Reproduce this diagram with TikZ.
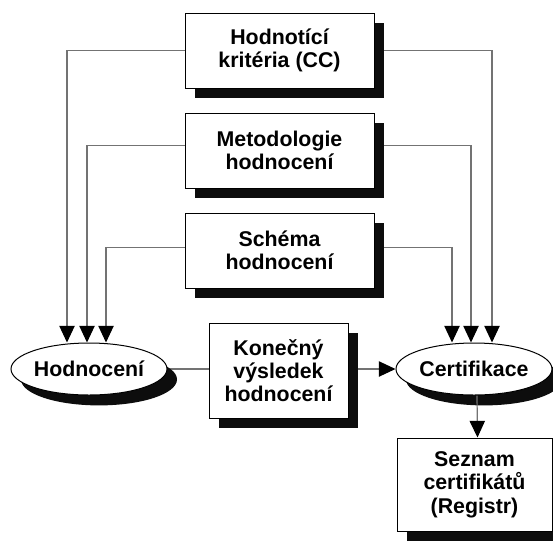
\documentclass[tikz,border=0pt]{standalone}
\usepackage{fontspec}
\setmainfont{Liberation Sans}
\usetikzlibrary{shapes.geometric,shadows,arrows.meta,calc}
\pgfdeclarelayer{bg}
\pgfsetlayers{bg,main}

\begin{document}
\begin{tikzpicture}[x=0.75pt,y=-0.75pt,
  txt/.style={font=\bfseries\fontsize{16}{17.5}\selectfont},
  dropshadow/.style={general shadow={fill=black!95, shadow xshift=7.5pt, shadow yshift=-7.8pt}},
  stepbox/.style={draw=black, line width=0.75pt, fill=white, rectangle, align=center,
    inner sep=0pt, txt, dropshadow, minimum width=141.75pt, minimum height=56.25pt},
  oval/.style={draw=black, ellipse, fill=white, line width=0.75pt, inner sep=0pt, txt,
    dropshadow, minimum width=117pt, minimum height=39pt},
  conn/.style={draw=black!55, line width=0.9pt},
  arrowed/.style={-{Triangle[length=12.5pt,width=11.5pt,color=black]}}
]
\useasboundingbox (0,0) rectangle (553,540);

% input documents
\node[stepbox] (crit)   at (279.5,50.5)  {Hodnotící\\kritéria (CC)};
\node[stepbox] (meth)   at (279.5,150.5) {Metodologie\\hodnocení};
\node[stepbox] (scheme) at (279.5,250.5) {Schéma\\hodnocení};

% process steps
\node[oval] (eval) at (89,369)  {Hodnocení};
\node[oval] (cert) at (474,369) {Certifikace};
\node[stepbox, minimum width=104.25pt, minimum height=71.25pt] (result)
  at (278.5,370.5) {Konečný\\výsledek\\hodnocení};
\node[stepbox, minimum width=116.25pt, minimum height=69.75pt] (reg)
  at (474.5,484.5) {Seznam\\certifikátů\\(Registr)};

\begin{pgfonlayer}{bg}
  \fill[white] (0,0) rectangle (553,540);
  % inputs to the evaluation
  \draw[conn,arrowed] (crit.west) -| ($(eval.north)+(-22,0)$);
  \draw[conn,arrowed] ([yshift=3.75pt]meth.west) -| ($(eval.north)+(-2,0)$);
  \draw[conn,arrowed] ([yshift=2.25pt]scheme.west) -| ($(eval.north)+(17,0)$);
  % inputs to the certification
  \draw[conn,arrowed] (crit.east) -| ($(cert.north)+(18,0)$);
  \draw[conn,arrowed] ([yshift=3.75pt]meth.east) -| ($(cert.north)+(-3,0)$);
  \draw[conn,arrowed] ([yshift=2.25pt]scheme.east) -| ($(cert.north)+(-22,0)$);
  % main flow
  \draw[conn] (eval.east) -- (eval.east -| result.west);
  \draw[conn,arrowed] (result.east |- cert.west) -- (cert.west);
\end{pgfonlayer}
\draw[conn,arrowed] ([xshift=2.25pt]cert.south) -- ([xshift=2.25pt]reg.north);
\end{tikzpicture}
\end{document}
